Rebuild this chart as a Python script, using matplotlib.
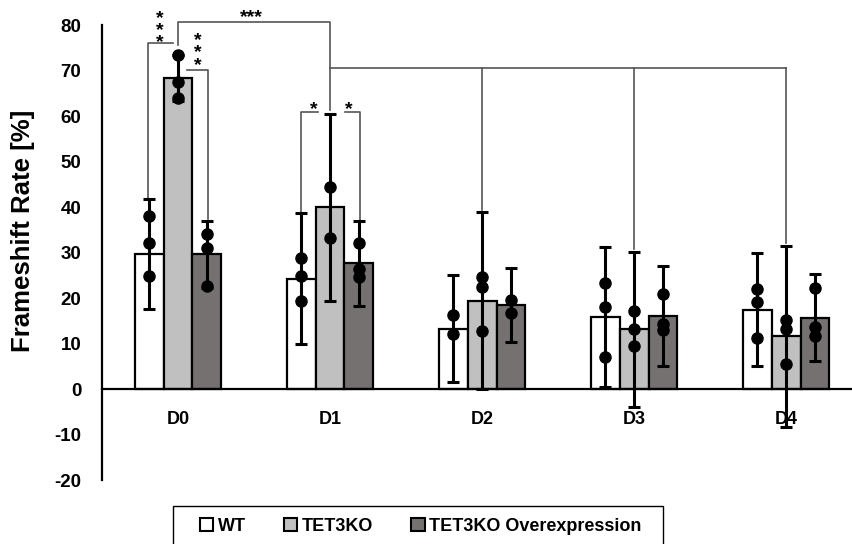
import numpy as np
import matplotlib
matplotlib.use("Agg")
import matplotlib.pyplot as plt
from matplotlib.patches import Patch, Rectangle

plt.rcParams["font.family"] = ["Liberation Sans", "DejaVu Sans"]
plt.rcParams["font.weight"] = "bold"
plt.rcParams["axes.unicode_minus"] = False

days = ["D0", "D1", "D2", "D3", "D4"]
groups = ["WT", "TET3KO", "TET3KO Overexpression"]

# mean frameshift rate (%) per day
wt_mean = [29.6, 24.2, 13.3, 15.8, 17.4]
ko_mean = [68.4, 39.9, 19.4, 13.1, 11.6]
oe_mean = [29.6, 27.6, 18.5, 16.1, 15.7]

# standard deviation
wt_sd = [12.1, 14.4, 11.8, 15.4, 12.4]
ko_sd = [5.0, 20.5, 19.4, 17.1, 19.9]
oe_sd = [7.4, 9.4, 8.2, 11.0, 9.6]

# individual replicates
wt_pts = [[38.0, 32.0, 24.8], [28.7, 24.9, 19.4], [16.3, 12.1],
          [23.2, 18.0, 7.1], [22.0, 19.2, 11.3]]
ko_pts = [[73.5, 67.5, 63.9], [44.3, 33.1], [24.7, 22.5, 12.7],
          [17.2, 13.3, 9.5], [15.2, 13.3, 5.6]]
oe_pts = [[34.1, 31.1, 22.6], [32.0, 26.4, 24.7], [19.6, 16.8],
          [20.9, 14.4, 13.0], [22.1, 13.7, 11.7]]

colors = ["#ffffff", "#c0c0c0", "#767171"]
bw = 0.19
offsets = [-bw, 0.0, bw]

fig = plt.figure(figsize=(8.53, 5.44), dpi=100)
ax = fig.add_axes([0.1196, 0.1176, 0.8804, 0.8364])

# move the x axis to y=0 first (this resets the tick objects)
for s in ["top", "right"]:
    ax.spines[s].set_visible(False)
ax.spines["bottom"].set_position(("data", 0))
ax.spines["bottom"].set_linewidth(1.6)
ax.spines["left"].set_linewidth(1.6)

x = np.arange(len(days))
series = [(wt_mean, wt_sd, wt_pts), (ko_mean, ko_sd, ko_pts), (oe_mean, oe_sd, oe_pts)]
for (m, sd, pts), off, c in zip(series, offsets, colors):
    ax.bar(x + off, m, width=bw, color=c, edgecolor="black", linewidth=1.6, zorder=2)
    ax.errorbar(x + off, m, yerr=sd, fmt="none", ecolor="black", elinewidth=2.2,
                capsize=4.5, capthick=2.2, zorder=3)
    for xi, p in zip(x, pts):
        ax.plot([xi + off] * len(p), p, "o", color="black", markersize=8, zorder=4)

# significance brackets
lc = "#555555"
lw = 1.2
def line(xs, ys):
    ax.plot(xs, ys, color=lc, linewidth=lw, clip_on=False, zorder=1)

def stars(xc, y_low, n=1, size=14):
    # vertical stack of asterisks; y_low is the centre of the lowest one
    ax.text(xc, y_low - 1.7, "\n".join(["*"] * n), ha="center", va="baseline",
            fontsize=size, linespacing=0.62)

# D0 WT vs TET3KO
line([-0.2, -0.2, -0.03], [wt_mean[0] + wt_sd[0] + 0.3, 76.1, 76.1])
stars(-0.118, 76.9, 3)
# D0 TET3KO vs OE
line([0.061, 0.195, 0.195], [70.1, 70.1, oe_mean[0] + oe_sd[0] + 0.3])
stars(0.13, 71.9, 3)
# D0 TET3KO vs D1 TET3KO
line([0.0, 0.0, 1.0, 1.0], [75.6, 80.7, 80.7, ko_mean[1] + ko_sd[1] + 0.9])
ax.text(0.485, 82.4 - 1.7, "***", ha="center", va="baseline", fontsize=14)
# D1 TET3KO vs D2-D4 TET3KO
line([1.0, 4.0], [70.5, 70.5])
for d in (2, 3, 4):
    line([d, d], [70.5, ko_mean[d] + ko_sd[d] + 0.5])
# D1 WT vs TET3KO, TET3KO vs OE
line([0.81, 0.81, 0.923], [wt_mean[1] + wt_sd[1] + 0.1, 60.8, 60.8])
stars(0.89, 62.2)
line([1.099, 1.2, 1.2], [60.8, 60.8, oe_mean[1] + oe_sd[1]])
stars(1.123, 62.2)

ax.set_xlim(-0.5, 4.44)
ax.set_ylim(-20, 80)
ax.set_yticks(np.arange(-20, 81, 10))
ax.set_xticks(x)
ax.set_xticklabels(days)
ax.tick_params(axis="x", length=0, pad=16, labelsize=13)
ax.tick_params(axis="y", length=0, pad=15, labelsize=13.5)
plt.setp(ax.get_xticklabels() + ax.get_yticklabels(), fontweight="bold")

ax.set_ylabel("Frameshift Rate [%]", fontsize=18.5, fontweight="bold")
ax.yaxis.set_label_coords(-0.089, 0.547)

handles = [Patch(facecolor=c, edgecolor="black", linewidth=1.5) for c in colors]
fig.legend(handles, groups, loc="center", bbox_to_anchor=(0.493, 0.033),
           ncol=3, frameon=False, prop={"weight": "bold", "size": 13},
           handlelength=0.75, handleheight=0.75, handletextpad=0.25,
           columnspacing=2.1)
fig.patches.append(Rectangle((0.2028, -0.02), 0.5745, 0.0899, transform=fig.transFigure,
                             facecolor="none", edgecolor="black", linewidth=1.0))

fig.savefig("out.png", dpi=100)
